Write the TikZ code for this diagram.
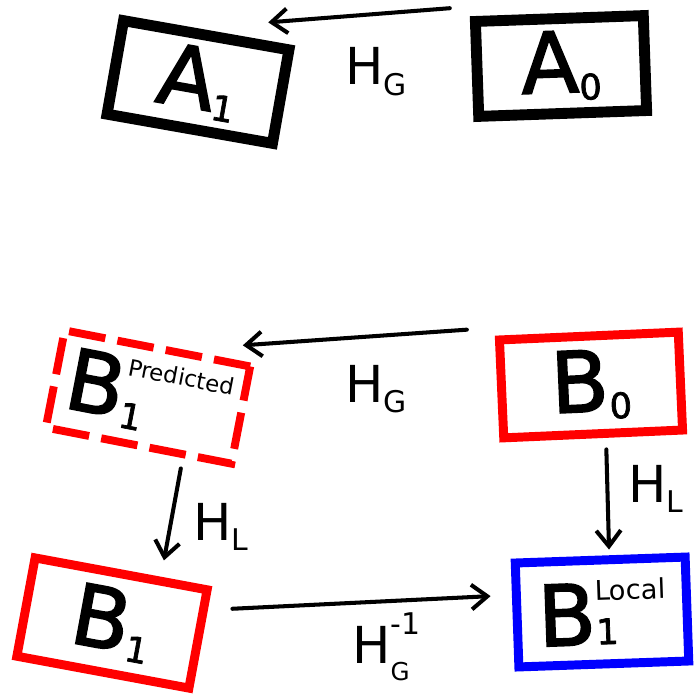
\documentclass[tikz,border=0pt]{standalone}
\usepackage{fontspec}
\setmainfont{DejaVu Sans}
\newfontfamily\heavyfont{DejaVu Sans}[FakeBold=2]
\usetikzlibrary{arrows.meta,calc}

\newcommand{\bigfs}{\heavyfont\fontsize{48}{48}\selectfont}
\newcommand{\subfs}{\heavyfont\fontsize{20}{20}\selectfont}
\newcommand{\labfs}{\fontsize{29}{29}\selectfont}
\newcommand{\idxfs}{\fontsize{17}{17}\selectfont}
% big letter with index below
\newcommand{\symsub}[2]{{\bigfs #1}\raisebox{-4.5pt}{\subfs #2}}
% big letter with index below and word above
\newcommand{\symsubsup}[5]{{\bigfs #1}\rlap{\raisebox{#4}{\subfs #2}}\raisebox{25pt}{\fontsize{#5}{#5}\selectfont #3}}
% H with indices
\newcommand{\hsub}[1]{{\labfs H}\raisebox{-6pt}{\idxfs #1}}
\newcommand{\hsubsup}[2]{{\labfs H}\rlap{\raisebox{16pt}{\idxfs #2}}\raisebox{-10pt}{\fontsize{14}{14}\selectfont #1}}

\tikzset{
  frame/.style={draw, inner sep=0pt, line join=miter},
  blackframe/.style={frame, line width=6.2pt},
  redframe/.style={frame, draw=red, line width=5.1pt},
  predframe/.style={frame, draw=red, line width=4.5pt, dash pattern=on 21pt off 7pt},
  blueframe/.style={frame, draw=blue, line width=5.1pt},
  arrow/.style={->, line width=2.3pt, line cap=round, line join=round},
  hlabel/.style={inner sep=0pt, anchor=base west}
}

\begin{document}
\begin{tikzpicture}[>={Straight Barb[length=9pt,width=14pt]}, x=0.02cm, y=-0.02cm]
	\useasboundingbox (0,0) rectangle (693,695);

	% top pair
	\node[blackframe, rotate=-10, minimum width=3.36cm, minimum height=1.9cm] (A1) at (198,82) {\symsub{A}{1}};
	\node[blackframe, rotate=2, minimum width=3.36cm, minimum height=1.9cm] (A0) at (561,66) {\symsub{A}{0}};
	\draw[arrow] ($(A0.north west)+(-20,-8)$) -- ($(A1.north east)+(-27,-23)$);
	\node[hlabel] (hg1) at (345,85) {\hsub{G}};

	% bottom group
	\node[predframe, rotate=-11, minimum width=3.78cm, minimum height=1.98cm] (B1p) at (148,397) {\symsubsup{B}{1}{Predicted}{-5pt}{13}};
	\node[redframe, rotate=2.5, minimum width=3.58cm, minimum height=1.96cm] (B0) at (591,385) {\symsub{B}{0}};
	\node[redframe, rotate=-10.5, minimum width=3.5cm, minimum height=2cm] (B1) at (112,623) {\symsub{B}{1}};
	\node[blueframe, rotate=2, minimum width=3.4cm, minimum height=2.08cm] (B1L) at (602,612) {\symsubsup{B}{1}{Local}{0pt}{15.5}};

	\draw[arrow] ($(B0.north west)+(-28,-6)$) -- ($(B1p.north east)+(-12,-18)$);
	\draw[arrow] ($(B1p.south)+(43,19)$) -- ($(B1.north)+(42,-9)$);
	\draw[arrow] ($(B0.south)+(13,11)$) -- ($(B1L.north)+(9,-6)$);
	\draw[arrow] ($(B1.east)+(30,-31)$) -- ($(B1L.west)+(-22,-19)$);

	\node[hlabel] (hg2) at (345,402) {\hsub{G}};
	\node[hlabel] (hl1) at (193,540) {\hsub{L}};
	\node[hlabel] (hl2) at (628,502) {\hsub{L}};
	\node[hlabel] (hginv) at (352,663) {\hsubsup{G}{-1}};
\end{tikzpicture}
\end{document}
